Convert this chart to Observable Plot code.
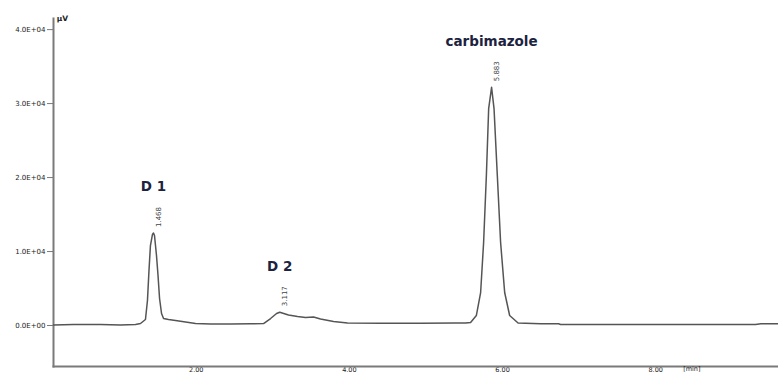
<!DOCTYPE html>
<html>
<head>
<meta charset="utf-8">
<script src="https://cdn.jsdelivr.net/npm/d3@7"></script>
<script src="https://cdn.jsdelivr.net/npm/@observablehq/plot@0.6"></script>
<style>
  html, body { margin: 0; padding: 0; background: #fff; }
  #chart svg { display: block; }
</style>
</head>
<body>
<div id="chart"></div>
<script>
// Chromatogram trace: retention time (min) and signal (µV)
const traceTime = [0.162, 0.424, 0.776, 1.037, 1.233, 1.298, 1.363, 1.389, 1.409, 1.428, 1.454, 1.468, 1.481, 1.507, 1.527, 1.547, 1.573, 1.599, 1.664, 1.755, 1.886, 2.017, 2.213, 2.474, 2.735, 2.905, 2.997, 3.075, 3.117, 3.231, 3.349, 3.453, 3.558, 3.649, 3.819, 4.002, 4.433, 4.955, 5.412, 5.543, 5.609, 5.684, 5.740, 5.779, 5.815, 5.845, 5.883, 5.915, 5.958, 6.001, 6.054, 6.119, 6.229, 6.523, 6.758, 6.784, 7.960, 9.330, 9.400, 9.630];
const traceSignal = [68, 135, 135, 68, 135, 270, 811, 3378, 7432, 10811, 12297, 12500, 12162, 9459, 6757, 3649, 1622, 946, 811, 676, 473, 270, 203, 203, 230, 270, 946, 1622, 1797, 1419, 1216, 1081, 1149, 878, 541, 338, 311, 311, 338, 338, 405, 1351, 4459, 11216, 20270, 29324, 32203, 29324, 20270, 11216, 4459, 1351, 338, 230, 230, 135, 135, 135, 230, 230];

// Peak annotations
const peakNames = ["D 1", "D 2", "carbimazole"];
const peakTimes = [1.468, 3.117, 5.883];
const peakSignals = [12500, 1797, 32203];
const peakTimeLabels = ["1.468", "3.117", "5.883"];

// Axis ticks
const xTicks = [2, 4, 6, 8];
const xTickLabels = ["2.00", "4.00", "6.00", "8.00"];
const yTicks = [0, 10000, 20000, 30000, 40000];
const yTickLabels = ["0.0E+00", "1.0E+04", "2.0E+04", "3.0E+04", "4.0E+04"];
const xDomain = [0.162, 9.63];
const yDomain = [-5540, 41500];

const trace = traceTime.map((t, i) => ({t, v: traceSignal[i]}));
const peaks = peakNames.map((name, i) => ({name, t: peakTimes[i], v: peakSignals[i], lab: peakTimeLabels[i]}));

const axisColor = "#7a7a7a";
const textColor = "#222";

const chart = Plot.plot({
  width: 778,
  height: 374,
  marginLeft: 53,
  marginRight: 0,
  marginTop: 18,
  marginBottom: 8,
  style: {background: "#fff", fontFamily: "DejaVu Sans, sans-serif"},
  x: {domain: xDomain},
  y: {domain: yDomain},
  marks: [
    Plot.axisY({
      ticks: yTicks,
      tickFormat: (d) => yTickLabels[yTicks.indexOf(d)],
      tickSize: 6,
      tickPadding: 2,
      stroke: axisColor,
      fill: textColor,
      fontSize: 7,
      label: null
    }),
    Plot.axisX({
      ticks: xTicks,
      tickFormat: (d) => xTickLabels[xTicks.indexOf(d)],
      tickSize: 0,
      tickPadding: 1,
      dx: 2,
      fill: textColor,
      fontSize: 6.5,
      label: null
    }),
    Plot.frame({anchor: "left", stroke: axisColor, strokeWidth: 2}),
    Plot.frame({anchor: "bottom", stroke: axisColor, strokeWidth: 2}),
    Plot.line(trace, {x: "t", y: "v", stroke: "#555", strokeWidth: 1.5, curve: "linear"}),
    Plot.text(peaks, {
      x: "t", y: "v", text: "lab", rotate: -90, textAnchor: "start",
      dx: 5, dy: -6, fontSize: 7, fill: "#444"
    }),
    Plot.text(peaks, {
      x: "t", y: "v", text: "name", dy: -46,
      fontSize: 13.5, fontWeight: "bold", fill: "#1c2340",
      fontFamily: "DejaVu Sans, sans-serif"
    }),
    Plot.text(["µV"], {frameAnchor: "top-left", dx: 9, dy: -3, fontSize: 7.5, fontWeight: "bold", fill: textColor, textAnchor: "middle"}),
    Plot.text(["[min]"], {frameAnchor: "bottom-right", dx: -78, dy: 4, fontSize: 6.5, fill: textColor})
  ]
});
document.getElementById("chart").appendChild(chart);
</script>
</body>
</html>
